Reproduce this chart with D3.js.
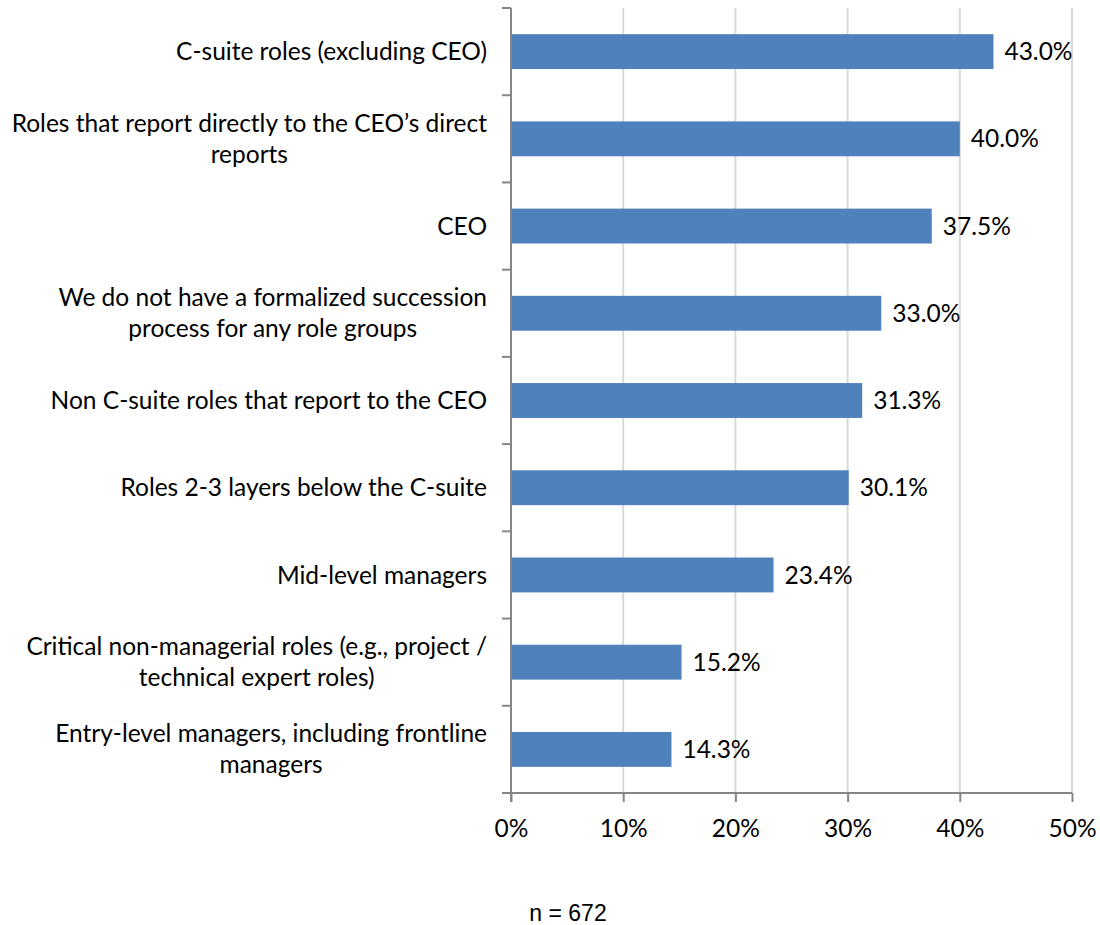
<!DOCTYPE html>
<html>
<head>
<meta charset="utf-8">
<script src="https://cdn.jsdelivr.net/npm/d3@7"></script>
<style>
  body { margin: 0; background: #fff; }
  text { font-family: "Lato", "Open Sans", sans-serif; fill: #000; }
</style>
</head>
<body>
<script>
// categories, top to bottom (each one is a list of lines)
var categories = [
  ["C-suite roles (excluding CEO)"],
  ["Roles that report directly to the CEO\u2019s direct", "reports"],
  ["CEO"],
  ["We do not have a formalized succession", "process for any role groups"],
  ["Non C-suite roles that report to the CEO"],
  ["Roles 2-3 layers below the C-suite"],
  ["Mid-level managers"],
  ["Critical non-managerial roles (e.g., project /", "technical expert roles)"],
  ["Entry-level managers, including frontline", "managers"]
];
var values = [43.0, 40.0, 37.5, 33.0, 31.3, 30.1, 23.4, 15.2, 14.3];
var xTicks = [0, 10, 20, 30, 40, 50];
var note = "n = 672";

var W = 1100, H = 925;
var plotL = 511, plotR = 1072, plotT = 8, plotB = 793;
var fs = "24.5px";

var svg = d3.select("body").append("svg")
  .attr("width", W)
  .attr("height", H);

var x = d3.scaleLinear().domain([0, 50]).range([plotL, plotR]);
var y = d3.scaleBand().domain(d3.range(categories.length)).range([plotT, plotB])
  .paddingInner(0.6).paddingOuter(0.3);

// gridlines
svg.selectAll("line.grid").data(xTicks.slice(1))
  .enter().append("line")
  .attr("class", "grid")
  .attr("x1", function(d){ return x(d); })
  .attr("x2", function(d){ return x(d); })
  .attr("y1", plotT)
  .attr("y2", plotB)
  .attr("stroke", "#d9d9d9")
  .attr("stroke-width", 2);

// bars
svg.selectAll("rect.bar").data(values)
  .enter().append("rect")
  .attr("class", "bar")
  .attr("x", x(0))
  .attr("y", function(d, i){ return y(i); })
  .attr("width", function(d){ return x(d) - x(0); })
  .attr("height", y.bandwidth())
  .attr("fill", "#4f81bd");

// value labels
svg.selectAll("text.val").data(values)
  .enter().append("text")
  .attr("class", "val")
  .attr("x", function(d){ return x(d) + 11; })
  .attr("y", function(d, i){ return y(i) + y.bandwidth() / 2; })
  .attr("dy", "0.35em")
  .style("font-size", fs)
  .text(function(d){ return d.toFixed(1) + "%"; });

// x axis
var xAxis = d3.axisBottom(x).tickValues(xTicks).tickSize(9).tickPadding(18)
  .tickFormat(function(d){ return d + "%"; });
var gx = svg.append("g").attr("transform", "translate(0," + plotB + ")").call(xAxis);
gx.select(".domain").attr("stroke", "#868686").attr("stroke-width", 2)
  .attr("d", "M" + (plotL - 9) + ",0H" + plotR);
gx.selectAll(".tick line").attr("stroke", "#868686").attr("stroke-width", 2);
gx.selectAll(".tick text").style("font-size", fs).style("font-family", "Lato, sans-serif").attr("fill", "#000");

// y axis: ticks sit between categories
var yEdges = d3.scaleLinear().domain([0, categories.length]).range([plotT, plotB]);
svg.append("line")
  .attr("x1", plotL).attr("x2", plotL)
  .attr("y1", plotT).attr("y2", plotB + 9)
  .attr("stroke", "#868686").attr("stroke-width", 2);
svg.selectAll("line.ytick").data(d3.range(categories.length))
  .enter().append("line")
  .attr("class", "ytick")
  .attr("x1", plotL - 9).attr("x2", plotL)
  .attr("y1", function(d){ return yEdges(d); })
  .attr("y2", function(d){ return yEdges(d); })
  .attr("stroke", "#868686").attr("stroke-width", 2);

// category labels: first line right-aligned, wrapped lines centred under it
var lineH = 31, labelR = 487;
svg.selectAll("text.cat").data(categories)
  .enter().append("text")
  .attr("class", "cat")
  .style("font-size", fs)
  .each(function(lines, i){
    var cy = y(i) + y.bandwidth() / 2;
    var y0 = cy - (lines.length - 1) * lineH / 2;
    var t = d3.select(this);
    var first = t.append("tspan")
      .attr("x", labelR).attr("y", y0).attr("dy", "0.35em")
      .attr("text-anchor", "end")
      .text(lines[0]);
    var w = first.node().getComputedTextLength();
    lines.slice(1).forEach(function(s, k){
      t.append("tspan")
        .attr("x", labelR - w / 2)
        .attr("y", y0 + (k + 1) * lineH)
        .attr("dy", "0.35em")
        .attr("text-anchor", "middle")
        .text(s);
    });
  });

// sample size note
svg.append("text")
  .attr("x", 568)
  .attr("y", 921)
  .attr("text-anchor", "middle")
  .style("font-family", "Liberation Sans, Arial, sans-serif")
  .style("font-size", "23px")
  .text(note);
</script>
</body>
</html>
